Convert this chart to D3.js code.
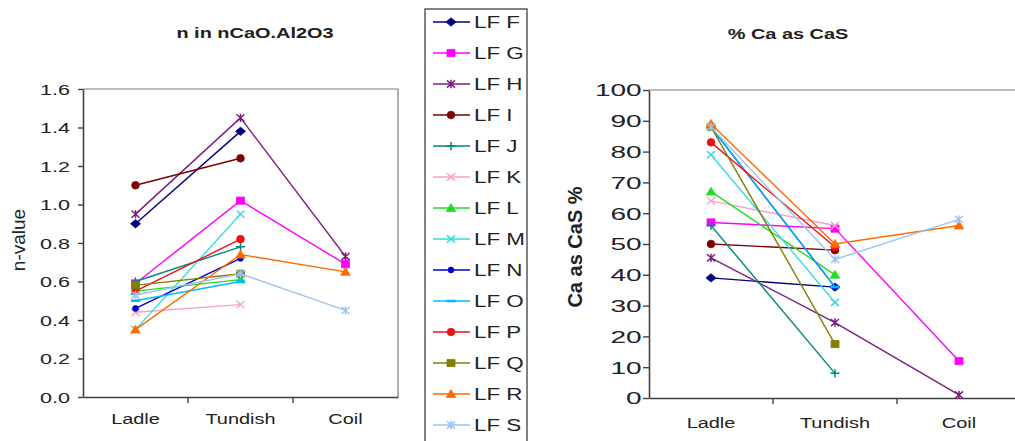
<!DOCTYPE html>
<html>
<head>
<meta charset="utf-8">
<script src="https://cdn.jsdelivr.net/npm/d3@7"></script>
<style>
  html, body { margin: 0; padding: 0; background: #fff; }
  svg { display: block; font-family: "Liberation Sans", Arial, sans-serif; }
</style>
</head>
<body>
<svg id="chart" width="1015" height="441"></svg>
<script>
// Process stages sampled along the line
const stages = ["Ladle", "Tundish", "Coil"];

// Ladle furnace heats
const heats = ["LF F", "LF G", "LF H", "LF I", "LF J", "LF K", "LF L",
               "LF M", "LF N", "LF O", "LF P", "LF Q", "LF R", "LF S"];

// n in nCaO.Al2O3, per heat: [Ladle, Tundish, Coil]
const nValues = [
  [0.90, 1.38, null],
  [0.59, 1.02, 0.69],
  [0.95, 1.45, 0.73],
  [1.10, 1.24, null],
  [0.60, 0.78, null],
  [0.44, 0.48, null],
  [0.55, 0.61, null],
  [0.35, 0.95, null],
  [0.46, 0.72, null],
  [0.50, 0.60, null],
  [0.55, 0.82, null],
  [0.58, 0.64, null],
  [0.35, 0.74, 0.65],
  [0.53, 0.64, 0.45]
];

// % of Ca present as CaS, per heat: [Ladle, Tundish, Coil]
const caAsCaS = [
  [39, 36, null],
  [57, 55, 12],
  [45.5, 24.5, 1],
  [50, 48, null],
  [56, 8, null],
  [64, 56, null],
  [67, 40, null],
  [79, 31, null],
  [88, 36, null],
  [88, 36, null],
  [83, 49, null],
  [88, 17.5, null],
  [89, 50, 56],
  [88, 45, 58]
];

const nTicks = [0, 0.2, 0.4, 0.6, 0.8, 1.0, 1.2, 1.4, 1.6];
const pctTicks = [0, 10, 20, 30, 40, 50, 60, 70, 80, 90, 100];

// Styling per heat
const colors = ["#000080", "#ff00ff", "#7a1f7a", "#7f0000", "#008878", "#f5a3c8", "#22dd22",
                "#33dddd", "#0000cc", "#00bbff", "#ee1111", "#808000", "#ff6a00", "#99c4f0"];
const shapes = ["diamond", "square", "star", "circle", "plus", "x", "triangle",
                "x", "circle-s", "dash", "circle", "square", "triangle", "star"];

const FONT = 15;
const svg = d3.select("#chart");

function stretched(g, x, y, str, o = {}) {
  const sx = o.sx || 1.33;
  return g.append("text")
    .attr("transform", `translate(${x},${y}) scale(${sx},1)` + (o.rotate ? ` rotate(${o.rotate})` : ""))
    .attr("text-anchor", o.anchor || "middle")
    .attr("font-size", o.size || FONT)
    .attr("font-weight", o.bold ? "bold" : "normal")
    .attr("fill", "#222")
    .text(str);
}

function drawMarker(g, shape, color) {
  const filled = {
    diamond: "M0,-4.2L5,0L0,4.2L-5,0Z",
    square: "M-4,-3.6H4V3.6H-4Z",
    triangle: "M0,-4.4L4.8,3.4H-4.8Z",
    circle: d3.symbol(d3.symbolCircle, 46)(),
    "circle-s": d3.symbol(d3.symbolCircle, 26)()
  };
  if (filled[shape]) {
    g.append("path").attr("d", filled[shape]).attr("fill", color).attr("stroke", color).attr("stroke-width", 0.8);
  } else {
    const p = {
      x: "M-4,-3.6L4,3.6M-4,3.6L4,-3.6",
      star: "M-4,-3.6L4,3.6M-4,3.6L4,-3.6M0,-4.2V4.2",
      plus: "M-4.5,0H4.5M0,-4.2V4.2",
      dash: "M-4.5,0H4.5"
    }[shape];
    g.append("path").attr("d", p).attr("fill", "none").attr("stroke", color)
      .attr("stroke-width", shape === "dash" ? 2.6 : 1.5);
  }
}

function panel(o) {
  const g = svg.append("g");
  const x = d3.scaleBand().domain(stages).range([o.x0, o.x1]);
  const y = d3.scaleLinear().domain(o.domain).range([o.y1, o.y0]);

  // plot-area border (top and right)
  g.append("path")
    .attr("d", `M${o.x0},${o.y0}H${o.x1}V${o.y1}`)
    .attr("fill", "none").attr("stroke", "#7a7a7a").attr("stroke-width", 1.2);

  // value axis
  const ya = g.append("g").attr("transform", `translate(${o.x0},0)`)
    .call(d3.axisLeft(y).tickValues(o.ticks).tickFormat(o.fmt).tickSize(o.tick).tickSizeOuter(0));
  ya.select(".domain").attr("stroke", "#404040").attr("stroke-width", 1.6);
  ya.selectAll(".tick line").attr("stroke", "#404040").attr("stroke-width", 1.4);
  ya.selectAll(".tick text")
    .attr("x", o.labelX).attr("dy", "0.36em")
    .attr("font-size", o.tickFont).attr("font-family", null).attr("fill", "#222")
    .attr("transform", `scale(${o.tickSX},1)`);

  // category axis: labels at band centres, ticks at band boundaries
  const xa = g.append("g").attr("transform", `translate(0,${o.y1})`)
    .call(d3.axisBottom(x).tickSize(0).tickSizeOuter(0));
  xa.select(".domain").attr("stroke", "#404040").attr("stroke-width", 1.6);
  xa.selectAll(".tick text")
    .attr("y", o.catY).attr("dy", "0.71em")
    .attr("font-size", FONT).attr("font-family", null).attr("fill", "#222")
    .attr("transform", "scale(1.33,1)");
  xa.selectAll(".bound").data(stages.slice(1)).join("line")
    .attr("class", "bound")
    .attr("x1", d => x(d)).attr("x2", d => x(d))
    .attr("y1", 0).attr("y2", 6)
    .attr("stroke", "#404040").attr("stroke-width", 1.4);

  // titles
  stretched(g, o.titleX, o.titleY, o.title, { bold: true, size: 15 });
  stretched(g, o.ytX, o.ytY, o.ytitle, { bold: o.ytBold, rotate: -90, size: o.ytSize, sx: 1 });

  // series
  const cx = s => x(s) + x.bandwidth() / 2;
  const line = d3.line().defined(d => d.v !== null).x(d => cx(d.s)).y(d => y(d.v));
  o.data.forEach((vals, i) => {
    const pts = vals.map((v, j) => ({ s: stages[j], v }));
    g.append("path").attr("d", line(pts)).attr("fill", "none")
      .attr("stroke", colors[i]).attr("stroke-width", 1.4);
    pts.filter(d => d.v !== null).forEach(d => {
      drawMarker(g.append("g").attr("transform", `translate(${cx(d.s)},${y(d.v)})`), shapes[i], colors[i]);
    });
  });
}

panel({
  x0: 83, x1: 398, y0: 89, y1: 397, domain: [0, 1.6], ticks: nTicks, fmt: d3.format(".1f"),
  tick: 5, labelX: -9, tickFont: 15, tickSX: 1.44, catY: 16.5,
  title: "n in nCaO.Al2O3", titleX: 255, titleY: 38,
  ytitle: "n-value", ytBold: false, ytSize: 19, ytX: 25, ytY: 240,
  data: nValues
});

panel({
  x0: 649, x1: 1021, y0: 90, y1: 398, domain: [0, 100], ticks: pctTicks, fmt: d3.format("d"),
  tick: 6, labelX: -4.3, tickFont: 16.5, tickSX: 1.7, catY: 19,
  title: "% Ca as CaS", titleX: 788, titleY: 39,
  ytitle: "Ca as CaS %", ytBold: true, ytSize: 20, ytX: 582, ytY: 247,
  data: caAsCaS
});

// legend
const lg = svg.append("g");
lg.append("rect").attr("x", 425).attr("y", 9).attr("width", 102).attr("height", 450)
  .attr("fill", "#fff").attr("stroke", "#404040").attr("stroke-width", 1.3);
heats.forEach((name, i) => {
  const yy = 22 + i * 31;
  const row = lg.append("g").attr("transform", `translate(0,${yy})`);
  row.append("line").attr("x1", 433).attr("x2", 470).attr("y1", 0).attr("y2", 0)
    .attr("stroke", colors[i]).attr("stroke-width", 1.4);
  drawMarker(row.append("g").attr("transform", "translate(451,0)"), shapes[i], colors[i]);
  stretched(row, 474, 6, name, { anchor: "start", size: 16, sx: 1.4 });
});
</script>
</body>
</html>
